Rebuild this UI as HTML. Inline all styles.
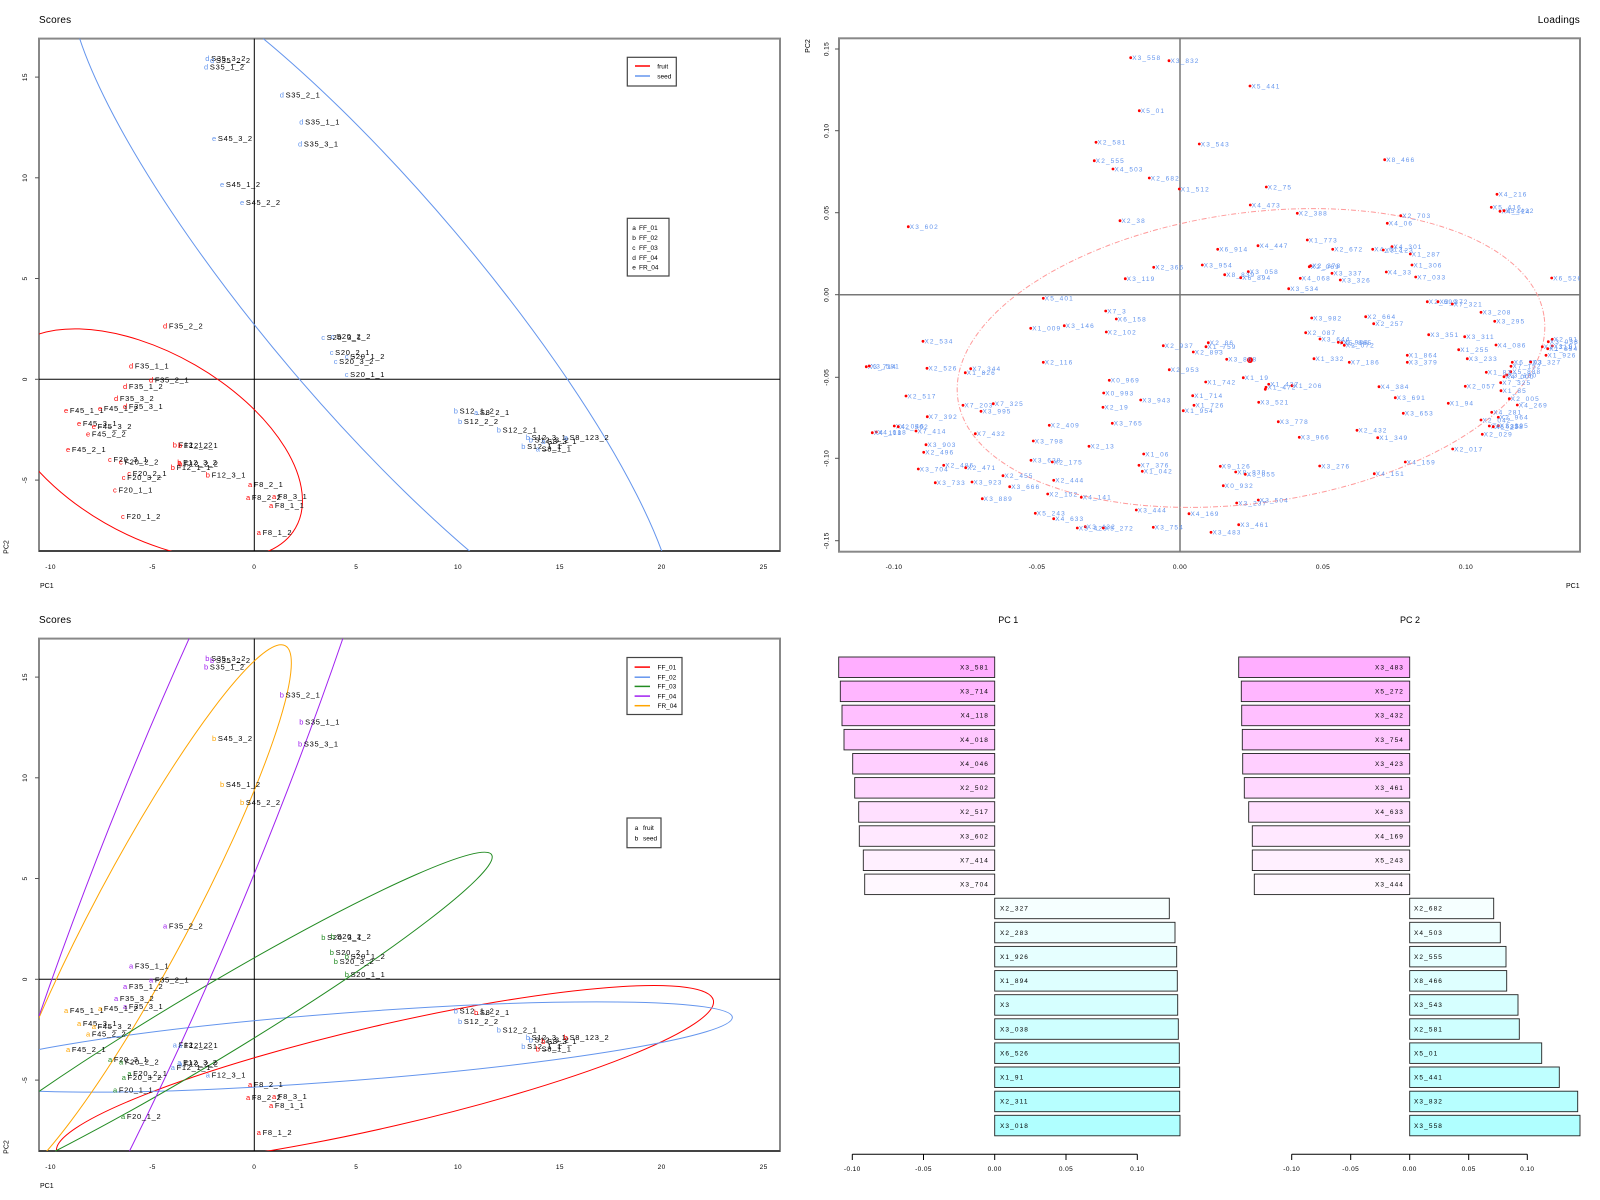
<!DOCTYPE html>
<html><head><meta charset="utf-8">
<style>
html,body{margin:0;padding:0;background:#fff;width:1600px;height:1200px;overflow:hidden;}
svg{display:block;font-family:"Liberation Sans",Arial,sans-serif;}
.L circle{fill:#ff0000;}
.L text{fill:#6495ED;font-size:6.5px;letter-spacing:1.1px;}
.sc text{font-size:7.5px;letter-spacing:0.7px;fill:#000;}
.tk{font-size:6.5px;letter-spacing:0.4px;fill:#000;}
.bl{font-size:6.5px;letter-spacing:1.1px;fill:#000;}
.lg{font-size:6.5px;fill:#000;}
</style></head>
<body>
<svg width="1600" height="1200" viewBox="0 0 1600 1200" xmlns="http://www.w3.org/2000/svg" overflow="hidden">
<defs>
<clipPath id="c1"><rect x="39" y="38.6" width="741" height="512.4"/></clipPath>
<clipPath id="c2"><rect x="39" y="638.6" width="741" height="512.4"/></clipPath>
<clipPath id="c3"><rect x="839" y="38.3" width="741" height="513.4"/></clipPath>
</defs>
<rect width="1600" height="1200" fill="#fff"/>

<!-- ================= TOP-LEFT SCORES ================= -->
<text x="39" y="23" font-size="10" letter-spacing="0.2">Scores</text>
<rect x="39" y="38.6" width="741" height="512.4" fill="none" stroke="#888" stroke-width="2"/>
<line x1="39" y1="551" x2="780" y2="551" stroke="#000" stroke-width="1"/>
<line x1="39" y1="379.3" x2="780" y2="379.3" stroke="#000" stroke-width="1"/>
<line x1="254.3" y1="38.6" x2="254.3" y2="551" stroke="#000" stroke-width="1"/>
<g clip-path="url(#c1)" fill="none" stroke-width="1">
<ellipse cx="150" cy="444" rx="168" ry="91" transform="rotate(30 150 444)" stroke="#FF0000"/>
<ellipse cx="372.5" cy="300" rx="451" ry="107" transform="rotate(49.7 372.5 300)" stroke="#6495ED"/>
</g>
<g class="tk" text-anchor="middle">
<text x="50.6" y="569">-10</text><text x="152.5" y="569">-5</text><text x="254.3" y="569">0</text><text x="356.2" y="569">5</text><text x="458" y="569">10</text><text x="559.9" y="569">15</text><text x="661.7" y="569">20</text><text x="763.6" y="569">25</text>
<text transform="translate(27,77.1) rotate(-90)">15</text>
<text transform="translate(27,177.8) rotate(-90)">10</text>
<text transform="translate(27,278.5) rotate(-90)">5</text>
<text transform="translate(27,379.3) rotate(-90)">0</text>
<text transform="translate(27,480.1) rotate(-90)">-5</text>
</g>
<g stroke="#555" stroke-width="1">
<line x1="35" y1="77.1" x2="39" y2="77.1"/><line x1="35" y1="177.8" x2="39" y2="177.8"/><line x1="35" y1="278.5" x2="39" y2="278.5"/><line x1="35" y1="379.3" x2="39" y2="379.3"/><line x1="35" y1="480.1" x2="39" y2="480.1"/>
</g>
<text x="40" y="588" font-size="7">PC1</text>
<text transform="translate(8.5,547) rotate(-90)" font-size="7" text-anchor="middle">PC2</text>

<!-- legends top -->
<rect x="627.3" y="57.3" width="49" height="28.7" fill="#fff" stroke="#444" stroke-width="1.2"/>
<line x1="635" y1="66" x2="650" y2="66" stroke="#FF0000" stroke-width="1.5"/>
<line x1="635" y1="76" x2="650" y2="76" stroke="#6495ED" stroke-width="1.5"/>
<text class="lg" x="657.3" y="68.3">fruit</text><text class="lg" x="657.3" y="78.3">seed</text>
<rect x="627.3" y="218.3" width="41.7" height="57.7" fill="#fff" stroke="#444" stroke-width="1.2"/>
<g class="lg">
<text x="632.3" y="230">a</text><text x="639" y="230">FF_01</text>
<text x="632.3" y="240">b</text><text x="639" y="240">FF_02</text>
<text x="632.3" y="250">c</text><text x="639" y="250">FF_03</text>
<text x="632.3" y="260">d</text><text x="639" y="260">FF_04</text>
<text x="632.3" y="269.6">e</text><text x="639" y="269.6">FR_04</text>
</g>

<g class="sc" transform="translate(-2,2.5)">
<text x="207.3" y="58.7"><tspan fill="#6495ED">d</tspan><tspan dx="1">S35_3_2</tspan></text>
<text x="212" y="60.7"><tspan fill="#6495ED">d</tspan><tspan dx="1">S35_2_2</tspan></text>
<text x="206" y="67"><tspan fill="#6495ED">d</tspan><tspan dx="1">S35_1_2</tspan></text>
<text x="281.7" y="95"><tspan fill="#6495ED">d</tspan><tspan dx="1">S35_2_1</tspan></text>
<text x="301.3" y="122"><tspan fill="#6495ED">d</tspan><tspan dx="1">S35_1_1</tspan></text>
<text x="214" y="138.3"><tspan fill="#6495ED">e</tspan><tspan dx="1">S45_3_2</tspan></text>
<text x="300" y="144"><tspan fill="#6495ED">d</tspan><tspan dx="1">S35_3_1</tspan></text>
<text x="222" y="184.7"><tspan fill="#6495ED">e</tspan><tspan dx="1">S45_1_2</tspan></text>
<text x="242" y="202.7"><tspan fill="#6495ED">e</tspan><tspan dx="1">S45_2_2</tspan></text>
<text x="165" y="326"><tspan fill="#FF0000">d</tspan><tspan dx="1">F35_2_2</tspan></text>
<text x="131" y="366"><tspan fill="#FF0000">d</tspan><tspan dx="1">F35_1_1</tspan></text>
<text x="151" y="380"><tspan fill="#FF0000">d</tspan><tspan dx="1">F35_2_1</tspan></text>
<text x="125" y="386.7"><tspan fill="#FF0000">d</tspan><tspan dx="1">F35_1_2</tspan></text>
<text x="116" y="398.3"><tspan fill="#FF0000">d</tspan><tspan dx="1">F35_3_2</tspan></text>
<text x="125" y="406.7"><tspan fill="#FF0000">d</tspan><tspan dx="1">F35_3_1</tspan></text>
<text x="66" y="410.7"><tspan fill="#FF0000">e</tspan><tspan dx="1">F45_1_1</tspan></text>
<text x="100" y="408.7"><tspan fill="#FF0000">e</tspan><tspan dx="1">F45_1_2</tspan></text>
<text x="79" y="423.7"><tspan fill="#FF0000">e</tspan><tspan dx="1">F45_3_1</tspan></text>
<text x="93.7" y="426.7"><tspan fill="#FF0000">e</tspan><tspan dx="1">F45_3_2</tspan></text>
<text x="88" y="434"><tspan fill="#FF0000">e</tspan><tspan dx="1">F45_2_2</tspan></text>
<text x="68" y="449.7"><tspan fill="#FF0000">e</tspan><tspan dx="1">F45_2_1</tspan></text>
<text x="110" y="459.3"><tspan fill="#FF0000">c</tspan><tspan dx="1">F20_3_1</tspan></text>
<text x="121" y="462"><tspan fill="#FF0000">c</tspan><tspan dx="1">F20_2_2</tspan></text>
<text x="129.3" y="473.3"><tspan fill="#FF0000">c</tspan><tspan dx="1">F20_2_1</tspan></text>
<text x="123.7" y="477.7"><tspan fill="#FF0000">c</tspan><tspan dx="1">F20_3_2</tspan></text>
<text x="115" y="490"><tspan fill="#FF0000">c</tspan><tspan dx="1">F20_1_1</tspan></text>
<text x="123" y="516.7"><tspan fill="#FF0000">c</tspan><tspan dx="1">F20_1_2</tspan></text>
<text x="174.7" y="445"><tspan fill="#FF0000">b</tspan><tspan dx="1">F12_1_2</tspan></text>
<text x="180" y="445.3"><tspan fill="#FF0000">b</tspan><tspan dx="1">F12_2_1</tspan></text>
<text x="179.3" y="462.3"><tspan fill="#FF0000">b</tspan><tspan dx="1">F12_3_2</tspan></text>
<text x="180.3" y="464"><tspan fill="#FF0000">b</tspan><tspan dx="1">F12_2_2</tspan></text>
<text x="172.7" y="467.3"><tspan fill="#FF0000">b</tspan><tspan dx="1">F12_1_1</tspan></text>
<text x="207.7" y="475"><tspan fill="#FF0000">b</tspan><tspan dx="1">F12_3_1</tspan></text>
<text x="250" y="484.7"><tspan fill="#FF0000">a</tspan><tspan dx="1">F8_2_1</tspan></text>
<text x="248" y="497.7"><tspan fill="#FF0000">a</tspan><tspan dx="1">F8_2_2</tspan></text>
<text x="274" y="496.7"><tspan fill="#FF0000">a</tspan><tspan dx="1">F8_3_1</tspan></text>
<text x="271" y="505.7"><tspan fill="#FF0000">a</tspan><tspan dx="1">F8_1_1</tspan></text>
<text x="258.7" y="532.7"><tspan fill="#FF0000">a</tspan><tspan dx="1">F8_1_2</tspan></text>
<text x="323.3" y="337.7"><tspan fill="#6495ED">c</tspan><tspan dx="1">S20_3_1</tspan></text>
<text x="332.7" y="336.7"><tspan fill="#6495ED">c</tspan><tspan dx="1">S20_2_2</tspan></text>
<text x="331.7" y="352.7"><tspan fill="#6495ED">c</tspan><tspan dx="1">S20_2_1</tspan></text>
<text x="346.7" y="356.7"><tspan fill="#6495ED">c</tspan><tspan dx="1">S20_1_2</tspan></text>
<text x="335.7" y="361.7"><tspan fill="#6495ED">c</tspan><tspan dx="1">S20_3_2</tspan></text>
<text x="346.7" y="374.7"><tspan fill="#6495ED">c</tspan><tspan dx="1">S20_1_1</tspan></text>
<text x="455.7" y="411"><tspan fill="#6495ED">b</tspan><tspan dx="1">S12_1_2</tspan></text>
<text x="476" y="412.7"><tspan fill="#6495ED">a</tspan><tspan dx="1">S8_2_1</tspan></text>
<text x="460" y="421.3"><tspan fill="#6495ED">b</tspan><tspan dx="1">S12_2_2</tspan></text>
<text x="498.7" y="430"><tspan fill="#6495ED">b</tspan><tspan dx="1">S12_2_1</tspan></text>
<text x="527.7" y="437.3"><tspan fill="#6495ED">b</tspan><tspan dx="1">S12_3_1</tspan></text>
<text x="530.7" y="440"><tspan fill="#6495ED">b</tspan><tspan dx="1">S12_3_2</tspan></text>
<text x="543.3" y="441.7"><tspan fill="#6495ED">a</tspan><tspan dx="1">S8_3_1</tspan></text>
<text x="565.7" y="437.7"><tspan fill="#6495ED">a</tspan><tspan dx="1">S8_123_2</tspan></text>
<text x="523.3" y="446.7"><tspan fill="#6495ED">b</tspan><tspan dx="1">S12_1_1</tspan></text>
<text x="537.7" y="449"><tspan fill="#6495ED">a</tspan><tspan dx="1">S8_1_1</tspan></text>
</g>

<!-- ================= BOTTOM-LEFT SCORES ================= -->
<text x="39" y="623" font-size="10" letter-spacing="0.2">Scores</text>
<rect x="39" y="638.6" width="741" height="512.4" fill="none" stroke="#888" stroke-width="2"/>
<line x1="39" y1="1151" x2="780" y2="1151" stroke="#000" stroke-width="1"/>
<line x1="39" y1="979.3" x2="780" y2="979.3" stroke="#000" stroke-width="1"/>
<line x1="254.3" y1="638.6" x2="254.3" y2="1151" stroke="#000" stroke-width="1"/>
<g clip-path="url(#c2)" fill="none" stroke-width="1">
<ellipse cx="385" cy="1076" rx="337" ry="50.7" transform="rotate(-13 385 1076)" stroke="#FF0000"/>
<ellipse cx="345" cy="1047" rx="388.5" ry="34" transform="rotate(-4.4 345 1047)" stroke="#6495ED"/>
<ellipse cx="142" cy="915" rx="305" ry="48" transform="rotate(-62 142 915)" stroke="#FFA500"/>
</g>
<g fill="none" stroke-width="1">
<path d="M 55.5 1151 A 340 35 -31 1 0 39 1091.4" stroke="#228B22"/>
<path d="M 342.8 638.6 A 600 76 -68 0 1 129.5 1151" stroke="#A020F0"/>
<path d="M 189.1 638.6 A 600 76 -68 0 0 39 1016.1" stroke="#A020F0"/>
</g>
<g class="tk" text-anchor="middle">
<text x="50.6" y="1169">-10</text><text x="152.5" y="1169">-5</text><text x="254.3" y="1169">0</text><text x="356.2" y="1169">5</text><text x="458" y="1169">10</text><text x="559.9" y="1169">15</text><text x="661.7" y="1169">20</text><text x="763.6" y="1169">25</text>
<text transform="translate(27,677.1) rotate(-90)">15</text>
<text transform="translate(27,777.8) rotate(-90)">10</text>
<text transform="translate(27,878.5) rotate(-90)">5</text>
<text transform="translate(27,979.3) rotate(-90)">0</text>
<text transform="translate(27,1080.1) rotate(-90)">-5</text>
</g>
<g stroke="#555" stroke-width="1">
<line x1="35" y1="677.1" x2="39" y2="677.1"/><line x1="35" y1="777.8" x2="39" y2="777.8"/><line x1="35" y1="878.5" x2="39" y2="878.5"/><line x1="35" y1="979.3" x2="39" y2="979.3"/><line x1="35" y1="1080.1" x2="39" y2="1080.1"/>
</g>
<text x="40" y="1188" font-size="7">PC1</text>
<text transform="translate(8.5,1147) rotate(-90)" font-size="7" text-anchor="middle">PC2</text>

<rect x="627" y="657.5" width="55" height="57" fill="#fff" stroke="#444" stroke-width="1.2"/>
<g stroke-width="1.5">
<line x1="634.6" y1="667.1" x2="650" y2="667.1" stroke="#FF0000"/>
<line x1="634.6" y1="677.2" x2="650" y2="677.2" stroke="#6495ED"/>
<line x1="634.6" y1="686.4" x2="650" y2="686.4" stroke="#228B22"/>
<line x1="634.6" y1="696.1" x2="650" y2="696.1" stroke="#A020F0"/>
<line x1="634.6" y1="705.7" x2="650" y2="705.7" stroke="#FFA500"/>
</g>
<g class="lg">
<text x="657.5" y="669.4">FF_01</text><text x="657.5" y="679.5">FF_02</text><text x="657.5" y="688.7">FF_03</text><text x="657.5" y="698.4">FF_04</text><text x="657.5" y="708">FR_04</text>
</g>
<rect x="627" y="818" width="34" height="29.7" fill="#fff" stroke="#444" stroke-width="1.2"/>
<g class="lg">
<text x="634.6" y="830">a</text><text x="643" y="830">fruit</text>
<text x="634.6" y="840.4">b</text><text x="643" y="840.4">seed</text>
</g>

<g class="sc" transform="translate(-2,602.5)">
<text x="207.3" y="58.7"><tspan fill="#A020F0">b</tspan><tspan dx="1">S35_3_2</tspan></text>
<text x="212" y="60.7"><tspan fill="#A020F0">b</tspan><tspan dx="1">S35_2_2</tspan></text>
<text x="206" y="67"><tspan fill="#A020F0">b</tspan><tspan dx="1">S35_1_2</tspan></text>
<text x="281.7" y="95"><tspan fill="#A020F0">b</tspan><tspan dx="1">S35_2_1</tspan></text>
<text x="301.3" y="122"><tspan fill="#A020F0">b</tspan><tspan dx="1">S35_1_1</tspan></text>
<text x="214" y="138.3"><tspan fill="#FFA500">b</tspan><tspan dx="1">S45_3_2</tspan></text>
<text x="300" y="144"><tspan fill="#A020F0">b</tspan><tspan dx="1">S35_3_1</tspan></text>
<text x="222" y="184.7"><tspan fill="#FFA500">b</tspan><tspan dx="1">S45_1_2</tspan></text>
<text x="242" y="202.7"><tspan fill="#FFA500">b</tspan><tspan dx="1">S45_2_2</tspan></text>
<text x="165" y="326"><tspan fill="#A020F0">a</tspan><tspan dx="1">F35_2_2</tspan></text>
<text x="131" y="366"><tspan fill="#A020F0">a</tspan><tspan dx="1">F35_1_1</tspan></text>
<text x="151" y="380"><tspan fill="#A020F0">a</tspan><tspan dx="1">F35_2_1</tspan></text>
<text x="125" y="386.7"><tspan fill="#A020F0">a</tspan><tspan dx="1">F35_1_2</tspan></text>
<text x="116" y="398.3"><tspan fill="#A020F0">a</tspan><tspan dx="1">F35_3_2</tspan></text>
<text x="125" y="406.7"><tspan fill="#A020F0">a</tspan><tspan dx="1">F35_3_1</tspan></text>
<text x="66" y="410.7"><tspan fill="#FFA500">a</tspan><tspan dx="1">F45_1_1</tspan></text>
<text x="100" y="408.7"><tspan fill="#FFA500">a</tspan><tspan dx="1">F45_1_2</tspan></text>
<text x="79" y="423.7"><tspan fill="#FFA500">a</tspan><tspan dx="1">F45_3_1</tspan></text>
<text x="93.7" y="426.7"><tspan fill="#FFA500">a</tspan><tspan dx="1">F45_3_2</tspan></text>
<text x="88" y="434"><tspan fill="#FFA500">a</tspan><tspan dx="1">F45_2_2</tspan></text>
<text x="68" y="449.7"><tspan fill="#FFA500">a</tspan><tspan dx="1">F45_2_1</tspan></text>
<text x="110" y="459.3"><tspan fill="#228B22">a</tspan><tspan dx="1">F20_3_1</tspan></text>
<text x="121" y="462"><tspan fill="#228B22">a</tspan><tspan dx="1">F20_2_2</tspan></text>
<text x="129.3" y="473.3"><tspan fill="#228B22">a</tspan><tspan dx="1">F20_2_1</tspan></text>
<text x="123.7" y="477.7"><tspan fill="#228B22">a</tspan><tspan dx="1">F20_3_2</tspan></text>
<text x="115" y="490"><tspan fill="#228B22">a</tspan><tspan dx="1">F20_1_1</tspan></text>
<text x="123" y="516.7"><tspan fill="#228B22">a</tspan><tspan dx="1">F20_1_2</tspan></text>
<text x="174.7" y="445"><tspan fill="#6495ED">a</tspan><tspan dx="1">F12_1_2</tspan></text>
<text x="180" y="445.3"><tspan fill="#6495ED">a</tspan><tspan dx="1">F12_2_1</tspan></text>
<text x="179.3" y="462.3"><tspan fill="#6495ED">a</tspan><tspan dx="1">F12_3_2</tspan></text>
<text x="180.3" y="464"><tspan fill="#6495ED">a</tspan><tspan dx="1">F12_2_2</tspan></text>
<text x="172.7" y="467.3"><tspan fill="#6495ED">a</tspan><tspan dx="1">F12_1_1</tspan></text>
<text x="207.7" y="475"><tspan fill="#6495ED">a</tspan><tspan dx="1">F12_3_1</tspan></text>
<text x="250" y="484.7"><tspan fill="#FF0000">a</tspan><tspan dx="1">F8_2_1</tspan></text>
<text x="248" y="497.7"><tspan fill="#FF0000">a</tspan><tspan dx="1">F8_2_2</tspan></text>
<text x="274" y="496.7"><tspan fill="#FF0000">a</tspan><tspan dx="1">F8_3_1</tspan></text>
<text x="271" y="505.7"><tspan fill="#FF0000">a</tspan><tspan dx="1">F8_1_1</tspan></text>
<text x="258.7" y="532.7"><tspan fill="#FF0000">a</tspan><tspan dx="1">F8_1_2</tspan></text>
<text x="323.3" y="337.7"><tspan fill="#228B22">b</tspan><tspan dx="1">S20_3_1</tspan></text>
<text x="332.7" y="336.7"><tspan fill="#228B22">b</tspan><tspan dx="1">S20_2_2</tspan></text>
<text x="331.7" y="352.7"><tspan fill="#228B22">b</tspan><tspan dx="1">S20_2_1</tspan></text>
<text x="346.7" y="356.7"><tspan fill="#228B22">b</tspan><tspan dx="1">S20_1_2</tspan></text>
<text x="335.7" y="361.7"><tspan fill="#228B22">b</tspan><tspan dx="1">S20_3_2</tspan></text>
<text x="346.7" y="374.7"><tspan fill="#228B22">b</tspan><tspan dx="1">S20_1_1</tspan></text>
<text x="455.7" y="411"><tspan fill="#6495ED">b</tspan><tspan dx="1">S12_1_2</tspan></text>
<text x="476" y="412.7"><tspan fill="#FF0000">b</tspan><tspan dx="1">S8_2_1</tspan></text>
<text x="460" y="421.3"><tspan fill="#6495ED">b</tspan><tspan dx="1">S12_2_2</tspan></text>
<text x="498.7" y="430"><tspan fill="#6495ED">b</tspan><tspan dx="1">S12_2_1</tspan></text>
<text x="527.7" y="437.3"><tspan fill="#6495ED">b</tspan><tspan dx="1">S12_3_1</tspan></text>
<text x="530.7" y="440"><tspan fill="#6495ED">b</tspan><tspan dx="1">S12_3_2</tspan></text>
<text x="543.3" y="441.7"><tspan fill="#FF0000">b</tspan><tspan dx="1">S8_3_1</tspan></text>
<text x="565.7" y="437.7"><tspan fill="#FF0000">b</tspan><tspan dx="1">S8_123_2</tspan></text>
<text x="523.3" y="446.7"><tspan fill="#6495ED">b</tspan><tspan dx="1">S12_1_1</tspan></text>
<text x="537.7" y="449"><tspan fill="#FF0000">b</tspan><tspan dx="1">S8_1_1</tspan></text>
</g>

<!-- ================= LOADINGS ================= -->
<text x="1580" y="23" font-size="10" letter-spacing="0.2" text-anchor="end">Loadings</text>
<rect x="839" y="38.3" width="741" height="513.4" fill="none" stroke="#888" stroke-width="2"/>
<line x1="839" y1="294.7" x2="1580" y2="294.7" stroke="#777" stroke-width="1.5"/>
<line x1="1180" y1="38.3" x2="1180" y2="551.7" stroke="#777" stroke-width="1.5"/>
<ellipse cx="1251" cy="358" rx="296" ry="145" transform="rotate(-8 1251 358)" fill="none" stroke="#ff9a9a" stroke-width="1" stroke-dasharray="5 2 1 2"/>
<g class="tk" text-anchor="middle">
<text x="894" y="569">-0.10</text><text x="1037" y="569">-0.05</text><text x="1180" y="569">0.00</text><text x="1323" y="569">0.05</text><text x="1466" y="569">0.10</text>
<text transform="translate(828.5,49) rotate(-90)">0.15</text>
<text transform="translate(828.5,130.7) rotate(-90)">0.10</text>
<text transform="translate(828.5,212.7) rotate(-90)">0.05</text>
<text transform="translate(828.5,294.7) rotate(-90)">0.00</text>
<text transform="translate(828.5,377.3) rotate(-90)">-0.05</text>
<text transform="translate(828.5,458.3) rotate(-90)">-0.10</text>
<text transform="translate(828.5,540.7) rotate(-90)">-0.15</text>
</g>
<g stroke="#555" stroke-width="1">
<line x1="835" y1="49" x2="839" y2="49"/><line x1="835" y1="130.7" x2="839" y2="130.7"/><line x1="835" y1="212.7" x2="839" y2="212.7"/><line x1="835" y1="294.7" x2="839" y2="294.7"/><line x1="835" y1="377.3" x2="839" y2="377.3"/><line x1="835" y1="458.3" x2="839" y2="458.3"/><line x1="835" y1="540.7" x2="839" y2="540.7"/>
</g>
<text x="1566" y="588" font-size="7">PC1</text>
<text transform="translate(810,46) rotate(-90)" font-size="7" text-anchor="middle">PC2</text>
<circle cx="1250" cy="360" r="3" fill="#ff0000"/>
<g class="L" clip-path="url(#c3)">
<g transform="translate(1130.7 57.7)"><circle r="1.4"/><text x="1.5" y="2.3">X3_558</text></g>
<g transform="translate(1169 60.7)"><circle r="1.4"/><text x="1.5" y="2.3">X3_832</text></g>
<g transform="translate(1250 86)"><circle r="1.4"/><text x="1.5" y="2.3">X5_441</text></g>
<g transform="translate(1139.3 110.7)"><circle r="1.4"/><text x="1.5" y="2.3">X5_01</text></g>
<g transform="translate(1096 142.3)"><circle r="1.4"/><text x="1.5" y="2.3">X2_581</text></g>
<g transform="translate(1199.3 144)"><circle r="1.4"/><text x="1.5" y="2.3">X3_543</text></g>
<g transform="translate(1384.7 159.7)"><circle r="1.4"/><text x="1.5" y="2.3">X8_466</text></g>
<g transform="translate(1094.3 160.7)"><circle r="1.4"/><text x="1.5" y="2.3">X2_555</text></g>
<g transform="translate(1113 169)"><circle r="1.4"/><text x="1.5" y="2.3">X4_503</text></g>
<g transform="translate(1149.3 178)"><circle r="1.4"/><text x="1.5" y="2.3">X2_682</text></g>
<g transform="translate(1266.3 187)"><circle r="1.4"/><text x="1.5" y="2.3">X2_75</text></g>
<g transform="translate(1179.3 189)"><circle r="1.4"/><text x="1.5" y="2.3">X1_512</text></g>
<g transform="translate(1497 194.3)"><circle r="1.4"/><text x="1.5" y="2.3">X4_216</text></g>
<g transform="translate(1250.3 205)"><circle r="1.4"/><text x="1.5" y="2.3">X4_473</text></g>
<g transform="translate(1491.3 207.3)"><circle r="1.4"/><text x="1.5" y="2.3">X5_416</text></g>
<g transform="translate(1500 211.3)"><circle r="1.4"/><text x="1.5" y="2.3">X4_424</text></g>
<g transform="translate(1504 210.7)"><circle r="1.4"/><text x="1.5" y="2.3">X5_432</text></g>
<g transform="translate(1297.3 213.3)"><circle r="1.4"/><text x="1.5" y="2.3">X2_388</text></g>
<g transform="translate(1400.7 215.7)"><circle r="1.4"/><text x="1.5" y="2.3">X2_703</text></g>
<g transform="translate(1120 220.7)"><circle r="1.4"/><text x="1.5" y="2.3">X2_38</text></g>
<g transform="translate(1387.3 223.3)"><circle r="1.4"/><text x="1.5" y="2.3">X4_06</text></g>
<g transform="translate(908.3 226.7)"><circle r="1.4"/><text x="1.5" y="2.3">X3_602</text></g>
<g transform="translate(1307.3 240)"><circle r="1.4"/><text x="1.5" y="2.3">X1_773</text></g>
<g transform="translate(1258 245.7)"><circle r="1.4"/><text x="1.5" y="2.3">X4_447</text></g>
<g transform="translate(1392 246.7)"><circle r="1.4"/><text x="1.5" y="2.3">X4_301</text></g>
<g transform="translate(1217.7 249.3)"><circle r="1.4"/><text x="1.5" y="2.3">X6_914</text></g>
<g transform="translate(1332.7 249.3)"><circle r="1.4"/><text x="1.5" y="2.3">X2_672</text></g>
<g transform="translate(1372.7 249.3)"><circle r="1.4"/><text x="1.5" y="2.3">X4_612</text></g>
<g transform="translate(1383.3 250)"><circle r="1.4"/><text x="1.5" y="2.3">X3_123</text></g>
<g transform="translate(1410.3 254)"><circle r="1.4"/><text x="1.5" y="2.3">X1_287</text></g>
<g transform="translate(1202.3 265)"><circle r="1.4"/><text x="1.5" y="2.3">X3_954</text></g>
<g transform="translate(1412 265)"><circle r="1.4"/><text x="1.5" y="2.3">X1_306</text></g>
<g transform="translate(1310.7 265.7)"><circle r="1.4"/><text x="1.5" y="2.3">X2_378</text></g>
<g transform="translate(1309.3 266.7)"><circle r="1.4"/><text x="1.5" y="2.3">X2_069</text></g>
<g transform="translate(1153.7 267.3)"><circle r="1.4"/><text x="1.5" y="2.3">X2_366</text></g>
<g transform="translate(1248.3 271.7)"><circle r="1.4"/><text x="1.5" y="2.3">X3_058</text></g>
<g transform="translate(1386.3 272)"><circle r="1.4"/><text x="1.5" y="2.3">X4_33</text></g>
<g transform="translate(1332 273.3)"><circle r="1.4"/><text x="1.5" y="2.3">X3_337</text></g>
<g transform="translate(1224.7 274.7)"><circle r="1.4"/><text x="1.5" y="2.3">X8_839</text></g>
<g transform="translate(1415.7 277)"><circle r="1.4"/><text x="1.5" y="2.3">X7_033</text></g>
<g transform="translate(1240.7 277.7)"><circle r="1.4"/><text x="1.5" y="2.3">X6_894</text></g>
<g transform="translate(1551.7 278)"><circle r="1.4"/><text x="1.5" y="2.3">X6_526</text></g>
<g transform="translate(1300.3 278.3)"><circle r="1.4"/><text x="1.5" y="2.3">X4_068</text></g>
<g transform="translate(1125.3 278.7)"><circle r="1.4"/><text x="1.5" y="2.3">X3_119</text></g>
<g transform="translate(1340.3 280)"><circle r="1.4"/><text x="1.5" y="2.3">X3_326</text></g>
<g transform="translate(1288.7 288.7)"><circle r="1.4"/><text x="1.5" y="2.3">X3_534</text></g>
<g transform="translate(1043.3 298.3)"><circle r="1.4"/><text x="1.5" y="2.3">X5_401</text></g>
<g transform="translate(1427.3 301.7)"><circle r="1.4"/><text x="1.5" y="2.3">X2_699</text></g>
<g transform="translate(1438 301.7)"><circle r="1.4"/><text x="1.5" y="2.3">X3_272</text></g>
<g transform="translate(1452.3 304)"><circle r="1.4"/><text x="1.5" y="2.3">X7_321</text></g>
<g transform="translate(1105.7 311)"><circle r="1.4"/><text x="1.5" y="2.3">X7_3</text></g>
<g transform="translate(1481 312.3)"><circle r="1.4"/><text x="1.5" y="2.3">X3_208</text></g>
<g transform="translate(1365.7 316.7)"><circle r="1.4"/><text x="1.5" y="2.3">X2_664</text></g>
<g transform="translate(1311.7 318)"><circle r="1.4"/><text x="1.5" y="2.3">X3_982</text></g>
<g transform="translate(1116.3 319)"><circle r="1.4"/><text x="1.5" y="2.3">X6_158</text></g>
<g transform="translate(1494.7 321.3)"><circle r="1.4"/><text x="1.5" y="2.3">X3_295</text></g>
<g transform="translate(1373.7 323.7)"><circle r="1.4"/><text x="1.5" y="2.3">X2_257</text></g>
<g transform="translate(1064.3 325.7)"><circle r="1.4"/><text x="1.5" y="2.3">X3_146</text></g>
<g transform="translate(1030.7 328.3)"><circle r="1.4"/><text x="1.5" y="2.3">X1_009</text></g>
<g transform="translate(1106.3 332)"><circle r="1.4"/><text x="1.5" y="2.3">X2_102</text></g>
<g transform="translate(1305.7 332.7)"><circle r="1.4"/><text x="1.5" y="2.3">X2_087</text></g>
<g transform="translate(1428.7 334.7)"><circle r="1.4"/><text x="1.5" y="2.3">X3_351</text></g>
<g transform="translate(1464.7 336.7)"><circle r="1.4"/><text x="1.5" y="2.3">X3_311</text></g>
<g transform="translate(1320 339)"><circle r="1.4"/><text x="1.5" y="2.3">X3_644</text></g>
<g transform="translate(1552.3 339.3)"><circle r="1.4"/><text x="1.5" y="2.3">X2_91</text></g>
<g transform="translate(923 341.3)"><circle r="1.4"/><text x="1.5" y="2.3">X2_534</text></g>
<g transform="translate(1548.3 341.7)"><circle r="1.4"/><text x="1.5" y="2.3">X3_038</text></g>
<g transform="translate(1338.3 342.3)"><circle r="1.4"/><text x="1.5" y="2.3">X6_988</text></g>
<g transform="translate(1341.7 342.7)"><circle r="1.4"/><text x="1.5" y="2.3">X5_865</text></g>
<g transform="translate(1208.3 342.7)"><circle r="1.4"/><text x="1.5" y="2.3">X2_86</text></g>
<g transform="translate(1496 345)"><circle r="1.4"/><text x="1.5" y="2.3">X4_086</text></g>
<g transform="translate(1344.3 345.3)"><circle r="1.4"/><text x="1.5" y="2.3">X2_072</text></g>
<g transform="translate(1163.3 345.7)"><circle r="1.4"/><text x="1.5" y="2.3">X2_937</text></g>
<g transform="translate(1552.3 346)"><circle r="1.4"/><text x="1.5" y="2.3">X1_91</text></g>
<g transform="translate(1206 346.7)"><circle r="1.4"/><text x="1.5" y="2.3">X1_759</text></g>
<g transform="translate(1542.3 346.7)"><circle r="1.4"/><text x="1.5" y="2.3">X2_311</text></g>
<g transform="translate(1547.7 348.7)"><circle r="1.4"/><text x="1.5" y="2.3">X1_894</text></g>
<g transform="translate(1458.7 349.7)"><circle r="1.4"/><text x="1.5" y="2.3">X1_255</text></g>
<g transform="translate(1193.3 352)"><circle r="1.4"/><text x="1.5" y="2.3">X2_893</text></g>
<g transform="translate(1546 355.3)"><circle r="1.4"/><text x="1.5" y="2.3">X1_926</text></g>
<g transform="translate(1407.3 355.3)"><circle r="1.4"/><text x="1.5" y="2.3">X1_864</text></g>
<g transform="translate(1314 358.7)"><circle r="1.4"/><text x="1.5" y="2.3">X1_332</text></g>
<g transform="translate(1467.3 358.7)"><circle r="1.4"/><text x="1.5" y="2.3">X3_233</text></g>
<g transform="translate(1226.7 359.3)"><circle r="1.4"/><text x="1.5" y="2.3">X3_868</text></g>
<g transform="translate(1043.3 362.3)"><circle r="1.4"/><text x="1.5" y="2.3">X2_116</text></g>
<g transform="translate(1349.3 362.3)"><circle r="1.4"/><text x="1.5" y="2.3">X7_186</text></g>
<g transform="translate(1407.3 362.3)"><circle r="1.4"/><text x="1.5" y="2.3">X3_379</text></g>
<g transform="translate(1512.3 362.3)"><circle r="1.4"/><text x="1.5" y="2.3">X6_903</text></g>
<g transform="translate(1530.7 362)"><circle r="1.4"/><text x="1.5" y="2.3">X3_327</text></g>
<g transform="translate(1511 366.3)"><circle r="1.4"/><text x="1.5" y="2.3">X7_152</text></g>
<g transform="translate(866.3 366.7)"><circle r="1.4"/><text x="1.5" y="2.3">X3_714</text></g>
<g transform="translate(869.3 366)"><circle r="1.4"/><text x="1.5" y="2.3">X3_581</text></g>
<g transform="translate(927 368.3)"><circle r="1.4"/><text x="1.5" y="2.3">X2_526</text></g>
<g transform="translate(970.7 368.7)"><circle r="1.4"/><text x="1.5" y="2.3">X7_344</text></g>
<g transform="translate(1169.3 369.7)"><circle r="1.4"/><text x="1.5" y="2.3">X2_953</text></g>
<g transform="translate(1510.7 371.7)"><circle r="1.4"/><text x="1.5" y="2.3">X5_888</text></g>
<g transform="translate(1486.3 372.3)"><circle r="1.4"/><text x="1.5" y="2.3">X1_83</text></g>
<g transform="translate(965.3 372.7)"><circle r="1.4"/><text x="1.5" y="2.3">X1_826</text></g>
<g transform="translate(1506.7 375)"><circle r="1.4"/><text x="1.5" y="2.3">X3_190</text></g>
<g transform="translate(1504 376.7)"><circle r="1.4"/><text x="1.5" y="2.3">X4_000</text></g>
<g transform="translate(1243.3 377.7)"><circle r="1.4"/><text x="1.5" y="2.3">X1_19</text></g>
<g transform="translate(1109.3 380.3)"><circle r="1.4"/><text x="1.5" y="2.3">X0_969</text></g>
<g transform="translate(1205.7 382)"><circle r="1.4"/><text x="1.5" y="2.3">X1_742</text></g>
<g transform="translate(1500.7 382.7)"><circle r="1.4"/><text x="1.5" y="2.3">X7_325</text></g>
<g transform="translate(1268.7 384.3)"><circle r="1.4"/><text x="1.5" y="2.3">X1_437</text></g>
<g transform="translate(1292 385.7)"><circle r="1.4"/><text x="1.5" y="2.3">X1_206</text></g>
<g transform="translate(1465.3 386.3)"><circle r="1.4"/><text x="1.5" y="2.3">X2_057</text></g>
<g transform="translate(1379 386.7)"><circle r="1.4"/><text x="1.5" y="2.3">X4_384</text></g>
<g transform="translate(1266 387.3)"><circle r="1.4"/><text x="1.5" y="2.3">X1_472</text></g>
<g transform="translate(1265.3 389.3)"><circle r="1.4"/></g>
<g transform="translate(1501 390.7)"><circle r="1.4"/><text x="1.5" y="2.3">X1_85</text></g>
<g transform="translate(1103.7 393)"><circle r="1.4"/><text x="1.5" y="2.3">X0_993</text></g>
<g transform="translate(1192.7 395.7)"><circle r="1.4"/><text x="1.5" y="2.3">X1_714</text></g>
<g transform="translate(906 396)"><circle r="1.4"/><text x="1.5" y="2.3">X2_517</text></g>
<g transform="translate(1395.3 397.7)"><circle r="1.4"/><text x="1.5" y="2.3">X3_691</text></g>
<g transform="translate(1509.3 398.7)"><circle r="1.4"/><text x="1.5" y="2.3">X2_005</text></g>
<g transform="translate(1140.7 400)"><circle r="1.4"/><text x="1.5" y="2.3">X3_943</text></g>
<g transform="translate(1258.7 402.3)"><circle r="1.4"/><text x="1.5" y="2.3">X3_521</text></g>
<g transform="translate(1448.3 403.3)"><circle r="1.4"/><text x="1.5" y="2.3">X1_94</text></g>
<g transform="translate(993.3 403.7)"><circle r="1.4"/><text x="1.5" y="2.3">X7_325</text></g>
<g transform="translate(1517.3 405)"><circle r="1.4"/><text x="1.5" y="2.3">X4_269</text></g>
<g transform="translate(1194 405.3)"><circle r="1.4"/><text x="1.5" y="2.3">X1_726</text></g>
<g transform="translate(963 405.3)"><circle r="1.4"/><text x="1.5" y="2.3">X7_203</text></g>
<g transform="translate(1103 407.3)"><circle r="1.4"/><text x="1.5" y="2.3">X2_19</text></g>
<g transform="translate(1183.3 410.7)"><circle r="1.4"/><text x="1.5" y="2.3">X1_954</text></g>
<g transform="translate(981 411.3)"><circle r="1.4"/><text x="1.5" y="2.3">X3_995</text></g>
<g transform="translate(1491.7 412.3)"><circle r="1.4"/><text x="1.5" y="2.3">X4_281</text></g>
<g transform="translate(1403.3 413.3)"><circle r="1.4"/><text x="1.5" y="2.3">X3_653</text></g>
<g transform="translate(927.3 416.7)"><circle r="1.4"/><text x="1.5" y="2.3">X7_392</text></g>
<g transform="translate(1498.3 417.3)"><circle r="1.4"/><text x="1.5" y="2.3">X2_964</text></g>
<g transform="translate(1481 420)"><circle r="1.4"/><text x="1.5" y="2.3">X2_042</text></g>
<g transform="translate(1278.3 421.7)"><circle r="1.4"/><text x="1.5" y="2.3">X3_778</text></g>
<g transform="translate(1112.3 423.3)"><circle r="1.4"/><text x="1.5" y="2.3">X3_765</text></g>
<g transform="translate(1049.3 425.3)"><circle r="1.4"/><text x="1.5" y="2.3">X2_409</text></g>
<g transform="translate(1498.3 425.7)"><circle r="1.4"/><text x="1.5" y="2.3">X3_395</text></g>
<g transform="translate(1489.3 426)"><circle r="1.4"/><text x="1.5" y="2.3">X4_635</text></g>
<g transform="translate(894.3 426)"><circle r="1.4"/><text x="1.5" y="2.3">X4_046</text></g>
<g transform="translate(1493.3 426.7)"><circle r="1.4"/><text x="1.5" y="2.3">X6_338</text></g>
<g transform="translate(898.3 426.7)"><circle r="1.4"/><text x="1.5" y="2.3">X2_502</text></g>
<g transform="translate(1357 430.3)"><circle r="1.4"/><text x="1.5" y="2.3">X2_432</text></g>
<g transform="translate(916 431)"><circle r="1.4"/><text x="1.5" y="2.3">X7_414</text></g>
<g transform="translate(876.3 432)"><circle r="1.4"/><text x="1.5" y="2.3">X4_018</text></g>
<g transform="translate(872.3 432.7)"><circle r="1.4"/><text x="1.5" y="2.3">X4_118</text></g>
<g transform="translate(975.3 433.7)"><circle r="1.4"/><text x="1.5" y="2.3">X7_432</text></g>
<g transform="translate(1482.3 434.3)"><circle r="1.4"/><text x="1.5" y="2.3">X2_029</text></g>
<g transform="translate(1299.3 437.3)"><circle r="1.4"/><text x="1.5" y="2.3">X3_966</text></g>
<g transform="translate(1377.7 437.7)"><circle r="1.4"/><text x="1.5" y="2.3">X1_349</text></g>
<g transform="translate(1033.3 441)"><circle r="1.4"/><text x="1.5" y="2.3">X3_798</text></g>
<g transform="translate(926 444.7)"><circle r="1.4"/><text x="1.5" y="2.3">X3_903</text></g>
<g transform="translate(1089 446.3)"><circle r="1.4"/><text x="1.5" y="2.3">X2_13</text></g>
<g transform="translate(1452.7 449)"><circle r="1.4"/><text x="1.5" y="2.3">X2_017</text></g>
<g transform="translate(923.7 452.3)"><circle r="1.4"/><text x="1.5" y="2.3">X2_496</text></g>
<g transform="translate(1143.7 454)"><circle r="1.4"/><text x="1.5" y="2.3">X1_06</text></g>
<g transform="translate(1031 460.3)"><circle r="1.4"/><text x="1.5" y="2.3">X3_638</text></g>
<g transform="translate(1052.3 462)"><circle r="1.4"/><text x="1.5" y="2.3">X2_175</text></g>
<g transform="translate(1405.3 462)"><circle r="1.4"/><text x="1.5" y="2.3">X4_159</text></g>
<g transform="translate(943.7 465.3)"><circle r="1.4"/><text x="1.5" y="2.3">X2_486</text></g>
<g transform="translate(1139 465.3)"><circle r="1.4"/><text x="1.5" y="2.3">X7_376</text></g>
<g transform="translate(1319.7 466)"><circle r="1.4"/><text x="1.5" y="2.3">X3_276</text></g>
<g transform="translate(1220.3 466.3)"><circle r="1.4"/><text x="1.5" y="2.3">X9_126</text></g>
<g transform="translate(965.7 467.7)"><circle r="1.4"/><text x="1.5" y="2.3">X2_471</text></g>
<g transform="translate(918.3 469)"><circle r="1.4"/><text x="1.5" y="2.3">X3_704</text></g>
<g transform="translate(1142.3 471.3)"><circle r="1.4"/><text x="1.5" y="2.3">X1_042</text></g>
<g transform="translate(1235.7 472)"><circle r="1.4"/><text x="1.5" y="2.3">X8_838</text></g>
<g transform="translate(1374.3 473.7)"><circle r="1.4"/><text x="1.5" y="2.3">X4_151</text></g>
<g transform="translate(1245.3 474.3)"><circle r="1.4"/><text x="1.5" y="2.3">X3_855</text></g>
<g transform="translate(1003 475.7)"><circle r="1.4"/><text x="1.5" y="2.3">X2_455</text></g>
<g transform="translate(1053.7 480.3)"><circle r="1.4"/><text x="1.5" y="2.3">X2_444</text></g>
<g transform="translate(972 482)"><circle r="1.4"/><text x="1.5" y="2.3">X3_923</text></g>
<g transform="translate(935.3 482.7)"><circle r="1.4"/><text x="1.5" y="2.3">X3_733</text></g>
<g transform="translate(1223.3 485.7)"><circle r="1.4"/><text x="1.5" y="2.3">X0_932</text></g>
<g transform="translate(1009.7 486.7)"><circle r="1.4"/><text x="1.5" y="2.3">X3_666</text></g>
<g transform="translate(1047.7 494)"><circle r="1.4"/><text x="1.5" y="2.3">X2_152</text></g>
<g transform="translate(1081.3 497.3)"><circle r="1.4"/><text x="1.5" y="2.3">X4_141</text></g>
<g transform="translate(982.3 498.7)"><circle r="1.4"/><text x="1.5" y="2.3">X3_889</text></g>
<g transform="translate(1258.3 500)"><circle r="1.4"/><text x="1.5" y="2.3">X3_504</text></g>
<g transform="translate(1236.7 503)"><circle r="1.4"/><text x="1.5" y="2.3">X3_237</text></g>
<g transform="translate(1136.3 510)"><circle r="1.4"/><text x="1.5" y="2.3">X3_444</text></g>
<g transform="translate(1035.3 513.3)"><circle r="1.4"/><text x="1.5" y="2.3">X5_243</text></g>
<g transform="translate(1189 513.7)"><circle r="1.4"/><text x="1.5" y="2.3">X4_169</text></g>
<g transform="translate(1053.7 518.7)"><circle r="1.4"/><text x="1.5" y="2.3">X4_633</text></g>
<g transform="translate(1238.7 524.7)"><circle r="1.4"/><text x="1.5" y="2.3">X3_461</text></g>
<g transform="translate(1085.3 526.7)"><circle r="1.4"/><text x="1.5" y="2.3">X3_432</text></g>
<g transform="translate(1153.3 527.3)"><circle r="1.4"/><text x="1.5" y="2.3">X3_754</text></g>
<g transform="translate(1077.3 528)"><circle r="1.4"/><text x="1.5" y="2.3">X3_423</text></g>
<g transform="translate(1103.3 528)"><circle r="1.4"/><text x="1.5" y="2.3">X5_272</text></g>
<g transform="translate(1211 532.3)"><circle r="1.4"/><text x="1.5" y="2.3">X3_483</text></g>
</g>

<!-- ================= BAR CHART PC 1 ================= -->
<text x="1008.3" y="623" font-size="9" text-anchor="middle">PC 1</text>
<g stroke="#222" stroke-width="0.9">
<rect x="838.7" y="657" width="156" height="20.5" fill="#FFAEFF"/>
<rect x="840.3" y="681.1" width="154.4" height="20.5" fill="#FFB6FF"/>
<rect x="842" y="705.2" width="152.7" height="20.5" fill="#FFBFFF"/>
<rect x="844" y="729.4" width="150.7" height="20.5" fill="#FFC7FF"/>
<rect x="852.7" y="753.5" width="142" height="20.5" fill="#FFCFFF"/>
<rect x="854.7" y="777.6" width="140" height="20.5" fill="#FFD7FF"/>
<rect x="858.7" y="801.7" width="136" height="20.5" fill="#FFE0FF"/>
<rect x="859.3" y="825.8" width="135.4" height="20.5" fill="#FFE8FF"/>
<rect x="863.3" y="850" width="131.4" height="20.5" fill="#FFF0FF"/>
<rect x="864.7" y="874.1" width="130" height="20.5" fill="#FFF8FF"/>
<rect x="994.7" y="898.2" width="174.6" height="20.5" fill="#F6FFFF"/>
<rect x="994.7" y="922.3" width="180.3" height="20.5" fill="#EEFFFF"/>
<rect x="994.7" y="946.4" width="182" height="20.5" fill="#E6FFFF"/>
<rect x="994.7" y="970.6" width="182.6" height="20.5" fill="#DEFFFF"/>
<rect x="994.7" y="994.7" width="183" height="20.5" fill="#D6FFFF"/>
<rect x="994.7" y="1018.8" width="183.6" height="20.5" fill="#CFFFFF"/>
<rect x="994.7" y="1042.9" width="184.6" height="20.5" fill="#C7FFFF"/>
<rect x="994.7" y="1067" width="185" height="20.5" fill="#BFFFFF"/>
<rect x="994.7" y="1091.2" width="185" height="20.5" fill="#B7FFFF"/>
<rect x="994.7" y="1115.3" width="185.3" height="20.5" fill="#B0FFFF"/>
</g>
<g class="bl" text-anchor="end">
<text x="989" y="669.5">X3_581</text><text x="989" y="693.6">X3_714</text><text x="989" y="717.7">X4_118</text><text x="989" y="741.9">X4_018</text><text x="989" y="766">X4_046</text><text x="989" y="790.1">X2_502</text><text x="989" y="814.2">X2_517</text><text x="989" y="838.3">X3_602</text><text x="989" y="862.5">X7_414</text><text x="989" y="886.6">X3_704</text>
</g>
<g class="bl">
<text x="1000" y="910.7">X2_327</text><text x="1000" y="934.8">X2_283</text><text x="1000" y="958.9">X1_926</text><text x="1000" y="983.1">X1_894</text><text x="1000" y="1007.2">X3</text><text x="1000" y="1031.3">X3_038</text><text x="1000" y="1055.4">X6_526</text><text x="1000" y="1079.5">X1_91</text><text x="1000" y="1103.7">X2_311</text><text x="1000" y="1127.8">X3_018</text>
</g>
<g stroke="#000" stroke-width="1">
<line x1="852.3" y1="1154.2" x2="1137.3" y2="1154.2"/>
<line x1="852.3" y1="1154.2" x2="852.3" y2="1160"/><line x1="923.5" y1="1154.2" x2="923.5" y2="1160"/><line x1="994.7" y1="1154.2" x2="994.7" y2="1160"/><line x1="1066" y1="1154.2" x2="1066" y2="1160"/><line x1="1137.3" y1="1154.2" x2="1137.3" y2="1160"/>
</g>
<g class="tk" text-anchor="middle">
<text x="852.3" y="1171">-0.10</text><text x="923.5" y="1171">-0.05</text><text x="994.7" y="1171">0.00</text><text x="1066" y="1171">0.05</text><text x="1137.3" y="1171">0.10</text>
</g>

<!-- ================= BAR CHART PC 2 ================= -->
<text x="1410" y="623" font-size="9" text-anchor="middle">PC 2</text>
<g stroke="#222" stroke-width="0.9">
<rect x="1238.7" y="657" width="171" height="20.5" fill="#FFAEFF"/>
<rect x="1241.3" y="681.1" width="168.4" height="20.5" fill="#FFB6FF"/>
<rect x="1241.7" y="705.2" width="168" height="20.5" fill="#FFBFFF"/>
<rect x="1242.3" y="729.4" width="167.4" height="20.5" fill="#FFC7FF"/>
<rect x="1242.7" y="753.5" width="167" height="20.5" fill="#FFCFFF"/>
<rect x="1244.3" y="777.6" width="165.4" height="20.5" fill="#FFD7FF"/>
<rect x="1248.7" y="801.7" width="161" height="20.5" fill="#FFE0FF"/>
<rect x="1252.3" y="825.8" width="157.4" height="20.5" fill="#FFE8FF"/>
<rect x="1252.3" y="850" width="157.4" height="20.5" fill="#FFF0FF"/>
<rect x="1254.3" y="874.1" width="155.4" height="20.5" fill="#FFF8FF"/>
<rect x="1409.7" y="898.2" width="84" height="20.5" fill="#F6FFFF"/>
<rect x="1409.7" y="922.3" width="90.6" height="20.5" fill="#EEFFFF"/>
<rect x="1409.7" y="946.4" width="96.3" height="20.5" fill="#E6FFFF"/>
<rect x="1409.7" y="970.6" width="97" height="20.5" fill="#DEFFFF"/>
<rect x="1409.7" y="994.7" width="108.3" height="20.5" fill="#D6FFFF"/>
<rect x="1409.7" y="1018.8" width="109.6" height="20.5" fill="#CFFFFF"/>
<rect x="1409.7" y="1042.9" width="132" height="20.5" fill="#C7FFFF"/>
<rect x="1409.7" y="1067" width="149.6" height="20.5" fill="#BFFFFF"/>
<rect x="1409.7" y="1091.2" width="168" height="20.5" fill="#B7FFFF"/>
<rect x="1409.7" y="1115.3" width="170.3" height="20.5" fill="#B0FFFF"/>
</g>
<g class="bl" text-anchor="end">
<text x="1404" y="669.5">X3_483</text><text x="1404" y="693.6">X5_272</text><text x="1404" y="717.7">X3_432</text><text x="1404" y="741.9">X3_754</text><text x="1404" y="766">X3_423</text><text x="1404" y="790.1">X3_461</text><text x="1404" y="814.2">X4_633</text><text x="1404" y="838.3">X4_169</text><text x="1404" y="862.5">X5_243</text><text x="1404" y="886.6">X3_444</text>
</g>
<g class="bl">
<text x="1414" y="910.7">X2_682</text><text x="1414" y="934.8">X4_503</text><text x="1414" y="958.9">X2_555</text><text x="1414" y="983.1">X8_466</text><text x="1414" y="1007.2">X3_543</text><text x="1414" y="1031.3">X2_581</text><text x="1414" y="1055.4">X5_01</text><text x="1414" y="1079.5">X5_441</text><text x="1414" y="1103.7">X3_832</text><text x="1414" y="1127.8">X3_558</text>
</g>
<g stroke="#000" stroke-width="1">
<line x1="1291.7" y1="1154.2" x2="1527.3" y2="1154.2"/>
<line x1="1291.7" y1="1154.2" x2="1291.7" y2="1160"/><line x1="1350.7" y1="1154.2" x2="1350.7" y2="1160"/><line x1="1409.7" y1="1154.2" x2="1409.7" y2="1160"/><line x1="1468.7" y1="1154.2" x2="1468.7" y2="1160"/><line x1="1527.3" y1="1154.2" x2="1527.3" y2="1160"/>
</g>
<g class="tk" text-anchor="middle">
<text x="1291.7" y="1171">-0.10</text><text x="1350.7" y="1171">-0.05</text><text x="1409.7" y="1171">0.00</text><text x="1468.7" y="1171">0.05</text><text x="1527.3" y="1171">0.10</text>
</g>
</svg>
</body></html>
